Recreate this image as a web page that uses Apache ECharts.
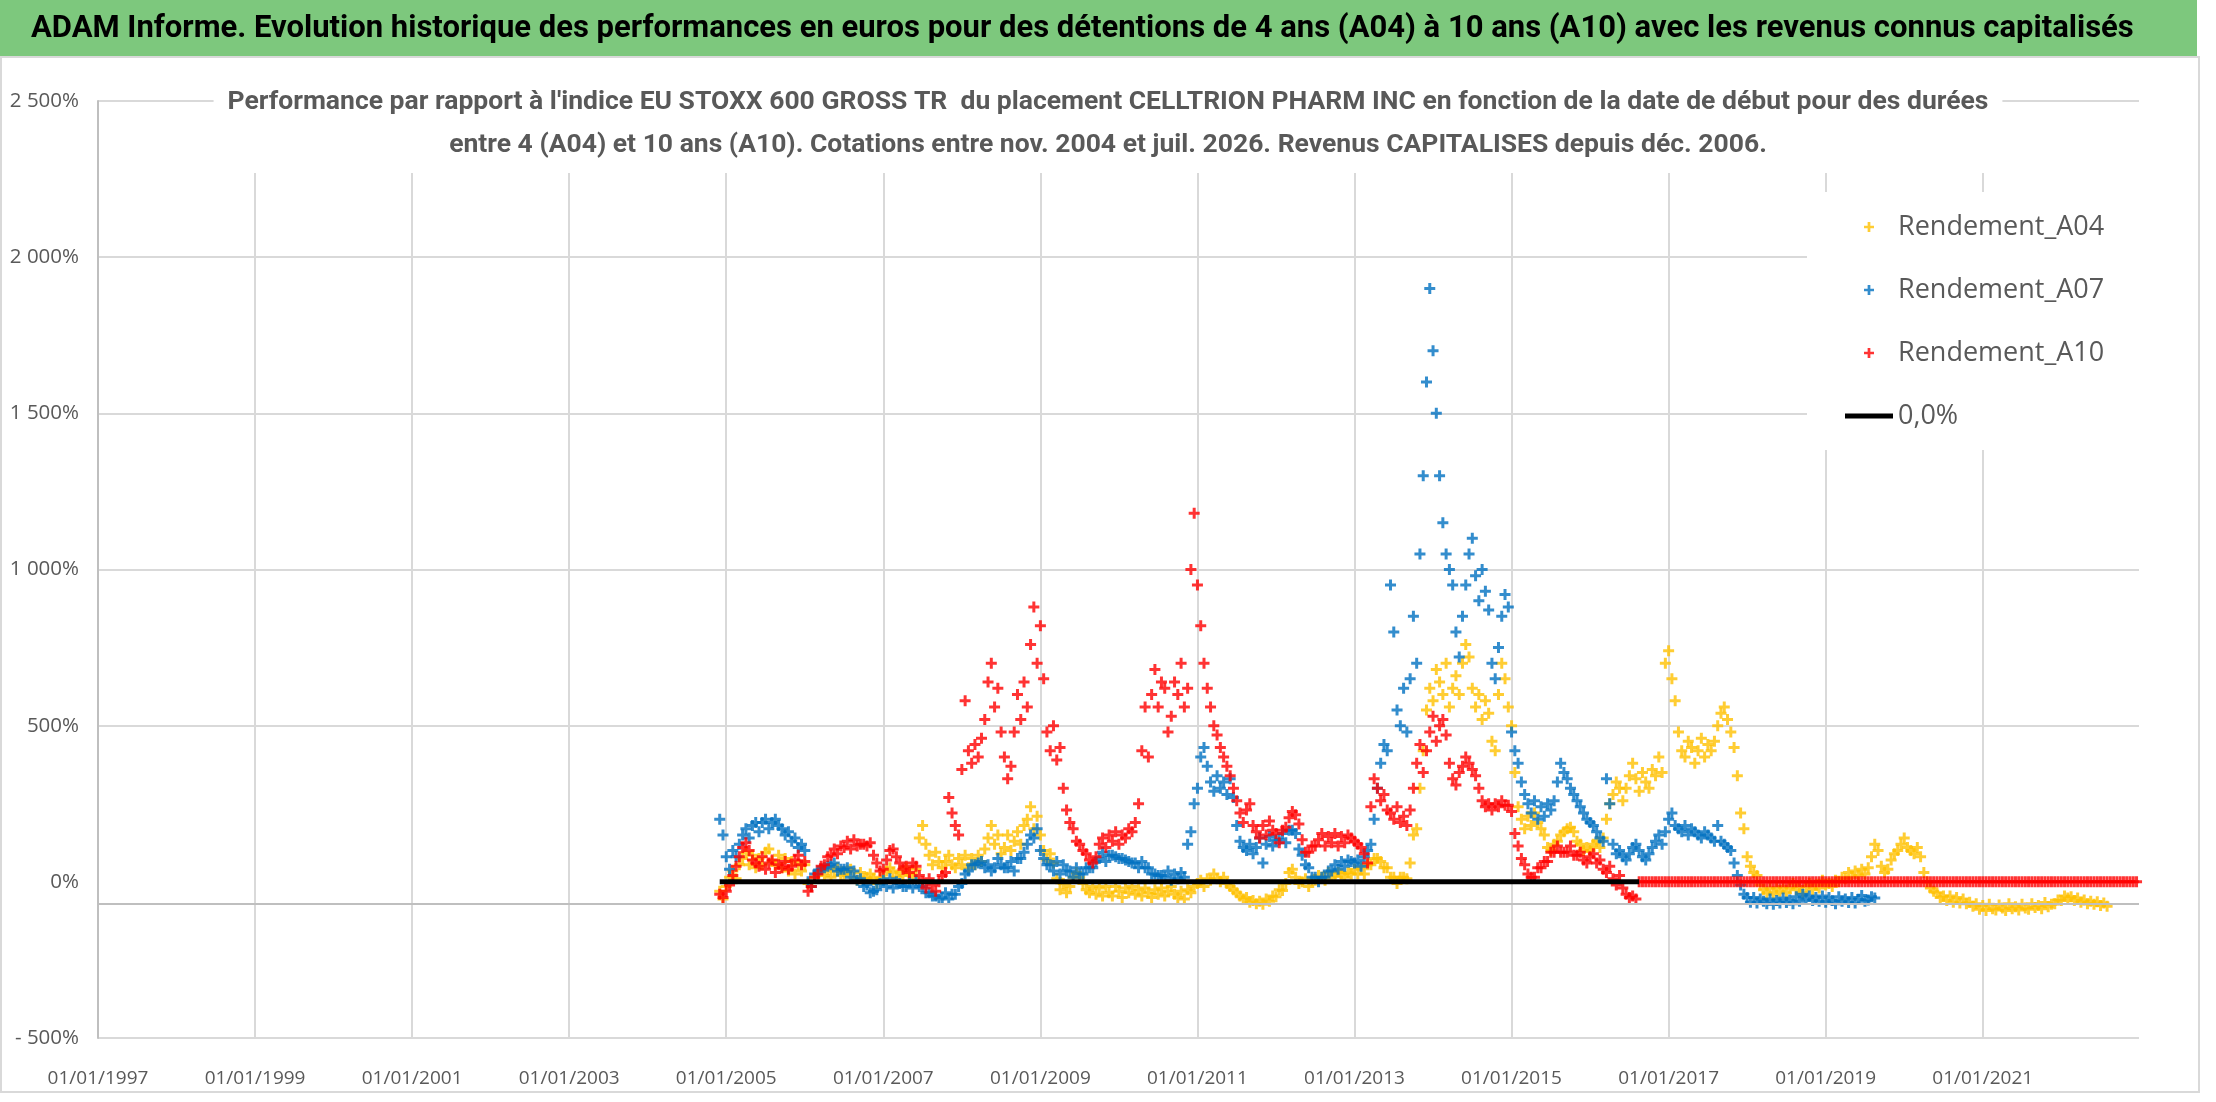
<!DOCTYPE html>
<html>
<head>
<meta charset="utf-8">
<script src="https://cdn.jsdelivr.net/npm/echarts@6/dist/echarts.min.js"></script>
<style>
  html, body { margin: 0; padding: 0; background: #fff; }
  #main { width: 2216px; height: 1102px; }
</style>
</head>
<body>
<div id="main"></div>
<script>
// points relevés tous les demi-mois à partir de déc. 2004
const startYear = 2004.917
const stepYear = 1 / 24
const firstTick = 1997
const axisCross = -70

const a04 = [
  -30, -55, -15, 15, 35, 10, 55, 75, 95, 55, 85, 45, 75, 55, 95, 105, 65, 55, 85, 45, 75, 35, 65, 25,
  55, 35, 55, -5, -15, 15, 25, 35, 20, 40, 15, 35, 45, 20, 25, 35, 40, 15, 5, 30, 10, 15, 25, 10,
  -5, 15, 10, 35, 45, 30, 15, 35, 20, 45, 25, 15, 40, 140, 180, 120, 85, 55, 95, 65, 45, 65, 85, 55,
  45, 75, 55, 85, 45, 75, 55, 85, 65, 105, 140, 180, 120, 150, 90, 110, 150, 100, 130, 160, 120, 180, 200, 240,
  170, 210, 150, 100, 70, 90, 60, 10, -25, -5, -35, -15, 15, 30, 15, -5, -25, -35, -15, -40, -20, -45, -15, -35,
  -45, -15, -30, -50, -20, -35, -15, -40, -25, -45, -20, -35, -50, -25, -40, -20, -45, -30, -15, -40, -50, -30, -55, -25,
  -35, -15, -5, 5, -15, 10, 5, 25, 10, 0, 15, -5, -15, -25, -35, -45, -55, -50, -65, -60, -70, -62, -72, -55,
  -62, -45, -48, -25, -28, -5, 30, 40, 15, -5, 0, 10, -15, 5, 5, 20, 15, 5, 30, 15, 20, 30, 25, 15,
  30, 25, 40, 25, 45, 25, 55, 55, 75, 75, 65, 45, 45, 15, 15, -5, 15, 15, 10, 60, 150, 170, 300, 420,
  550, 620, 580, 680, 640, 600, 700, 560, 620, 660, 600, 700, 760, 720, 620, 560, 600, 520, 580, 540, 450, 420, 600, 700,
  650, 560, 500, 350, 240, 200, 170, 210, 180, 220, 190, 170, 150, 110, 100, 120, 130, 150, 160, 170, 175, 160, 130, 120,
  100, 110, 100, 120, 130, 110, 140, 200, 250, 280, 320, 300, 260, 300, 340, 380, 330, 290, 350, 320, 300, 360, 340, 400,
  350, 700, 740, 650, 580, 480, 420, 400, 450, 430, 380, 420, 460, 400, 440, 420, 450, 500, 540, 560, 520, 480, 430, 340,
  220, 170, 80, 50, 30, 20, -10, -25, -35, -20, -40, -20, -30, -15, -35, -20, -5, -25, -15, -35, -15, -5, -25, -10,
  -20, 5, -10, -5, -15, 5, 0, 15, 10, 30, 15, 35, 20, 40, 25, 45, 80, 120, 100, 50, 30, 40, 70, 90,
  100, 120, 140, 110, 100, 90, 110, 80, 30, 0, -20, -30, -35, -50, -45, -60, -45, -65, -50, -68, -55, -70, -65, -78,
  -70, -88, -76, -92, -72, -86, -90, -74, -84, -92, -70, -86, -80, -90, -72, -84, -88, -70, -82, -76, -86, -66, -80, -72,
  -70, -58, -60, -45, -52, -48, -60, -52, -65, -58, -70, -62, -72, -64, -76, -68, -78
]

const a07 = [
  200, 150, 80, 40, 100, 80, 120, 150, 170, 140, 180, 190, 160, 190, 200, 170, 190, 200, 180, 170, 150, 160, 130, 140,
  110, 120, 100, 0, -15, 25, 35, 40, 45, 50, 55, 60, 35, 40, 40, 45, 15, 35, 5, 10, -15, -10, -35, -30,
  -25, -5, 5, -15, 10, -20, 0, -5, -15, -15, 0, -20, 5, -15, -15, -35, -35, -45, -45, -55, -50, -35, -55, -40,
  -40, -15, -5, 25, 35, 55, 55, 60, 65, 45, 55, 35, 45, 75, 55, 45, 45, 65, 35, 75, 75, 95, 120, 150,
  140, 170, 100, 75, 55, 55, 35, 65, 25, 55, 35, 35, 15, 45, 25, 25, 45, 45, 45, 65, 75, 95, 65, 85,
  85, 80, 75, 75, 70, 65, 60, 60, 45, 65, 45, 45, 25, 25, 20, 20, 15, 35, 5, 25, 10, 30, 15, 120,
  160, 250, 300, 400, 430, 370, 320, 290, 340, 300, 320, 280, 330, 270, 180, 130, 110, 100, 120, 90, 110, 140, 60, 120,
  145, 115, 135, 135, 155, 125, 165, 165, 155, 105, 85, 55, 45, 15, 15, 0, 15, 15, 35, 35, 55, 40, 65, 50,
  70, 65, 60, 70, 50, 80, 100, 120, 200, 300, 380, 440, 420, 950, 800, 550, 500, 620, 480, 650, 850, 700, 1050, 1300,
  1600, 1900, 1700, 1500, 1300, 1150, 1050, 1000, 950, 800, 720, 850, 950, 1050, 1100, 980, 900, 1000, 930, 870, 700, 650, 750, 850,
  920, 880, 480, 420, 380, 320, 280, 250, 220, 260, 200, 240, 210, 250, 230, 260, 320, 380, 350, 330, 300, 280, 260, 240,
  220, 200, 190, 180, 160, 140, 130, 330, 250, 120, 90, 100, 80, 70, 90, 110, 120, 100, 80, 70, 90, 110, 130, 150,
  120, 160, 200, 220, 180, 170, 160, 180, 150, 170, 160, 150, 140, 160, 150, 140, 130, 180, 130, 120, 110, 100, 60, 20,
  -10, -40, -50, -65, -50, -68, -55, -62, -70, -55, -72, -60, -68, -52, -66, -58, -70, -48, -62, -40, -55, -45, -60, -50,
  -62, -45, -65, -50, -60, -70, -48, -62, -55, -66, -50, -68, -56, -44, -62, -58, -48, -52
]

const a10 = [
  -40, -50, -30, -10, 20, 50, 80, 110, 125, 100, 70, 60, 50, 80, 40, 60, 70, 30, 55, 45, 65, 40, 50, 70,
  85, 55, 65, -30, -15, 15, 25, 50, 55, 80, 85, 105, 90, 115, 110, 130, 105, 135, 115, 120, 120, 115, 125, 85,
  60, 35, 40, 70, 100, 105, 80, 60, 40, 50, 30, 60, 50, 20, 0, -20, 10, -10, -30, 0, 20, 30, 270, 220,
  180, 150, 360, 580, 420, 380, 440, 400, 460, 520, 640, 700, 560, 620, 480, 400, 330, 370, 480, 600, 520, 640, 560, 760,
  880, 700, 820, 650, 480, 420, 500, 390, 430, 300, 230, 190, 170, 130, 120, 100, 90, 70, 60, 80, 120, 140, 110, 150,
  130, 160, 120, 150, 140, 170, 160, 190, 250, 420, 560, 400, 600, 680, 560, 640, 620, 480, 530, 640, 600, 700, 560, 620,
  1000, 1180, 950, 820, 700, 620, 560, 500, 470, 430, 400, 370, 340, 300, 260, 220, 190, 230, 250, 180, 160, 140, 180, 150,
  195, 165, 155, 125, 165, 175, 205, 225, 215, 185, 135, 95, 95, 115, 115, 135, 155, 115, 145, 125, 155, 115, 145, 125,
  150, 140, 130, 120, 110, 90, 60, 240, 330, 300, 260, 280, 230, 220, 200, 240, 190, 210, 180, 230, 300, 380, 440, 350,
  420, 480, 530, 450, 500, 520, 470, 380, 330, 310, 350, 370, 400, 380, 360, 340, 300, 260, 240, 250, 230, 250, 240, 260,
  245, 245, 225, 155, 115, 75, 55, 25, 15, 15, 45, 45, 65, 65, 95, 95, 115, 95, 95, 95, 115, 85, 85, 95,
  70, 60, 80, 90, 60, 70, 40, 30, 50, 10, -10, 20, -20, -40, -50, -45, -55, 0, 0, 0, 0, 0, 0, 0,
  0, 0, 0, 0, 0, 0, 0, 0, 0, 0, 0, 0, 0, 0, 0, 0, 0, 0, 0, 0, 0, 0, 0, 0,
  0, 0, 0, 0, 0, 0, 0, 0, 0, 0, 0, 0, 0, 0, 0, 0, 0, 0, 0, 0, 0, 0, 0, 0,
  0, 0, 0, 0, 0, 0, 0, 0, 0, 0, 0, 0, 0, 0, 0, 0, 0, 0, 0, 0, 0, 0, 0, 0,
  0, 0, 0, 0, 0, 0, 0, 0, 0, 0, 0, 0, 0, 0, 0, 0, 0, 0, 0, 0, 0, 0, 0, 0,
  0, 0, 0, 0, 0, 0, 0, 0, 0, 0, 0, 0, 0, 0, 0, 0, 0, 0, 0, 0, 0, 0, 0, 0,
  0, 0, 0, 0, 0, 0, 0, 0, 0, 0, 0, 0, 0, 0, 0, 0, 0, 0, 0, 0, 0, 0, 0, 0,
  0, 0
]

// la ligne noire 0,0% est masquée par la bande rouge après mi-2016
const zeroDates = [2004.917, 2016.625]
const zeroValues = [0, 0]

const titleText = 'ADAM Informe. Evolution historique des performances en euros pour des détentions de 4 ans (A04) à 10 ans (A10) avec les revenus connus capitalisés'
const subText = "Performance par rapport à l'indice EU STOXX 600 GROSS TR  du placement CELLTRION PHARM INC en fonction de la date de début pour des durées\n" +
  'entre 4 (A04) et 10 ans (A10). Cotations entre nov. 2004 et juil. 2026. Revenus CAPITALISES depuis déc. 2006.'

const plus = 'path://M4,0H7V4H11V7H7V11H4V7H0V4H4Z'
const bar = 'path://M0,0H48V5H0Z'
const narrow = "'Liberation Sans Narrow', 'Roboto', sans-serif"

function toPoints(values) {
  return values.map((v, i) => [startYear + i * stepYear - firstTick, v])
}

function pct(v) {
  const s = String(Math.abs(v)).replace(/\B(?=(\d{3})+(?!\d))/g, ' ')
  return (v < 0 ? '- ' : '') + s + '%'
}

const gridGray = '#d9d9d9'
const xLineColors = []
for (let k = 0; k < 13; k++) xLineColors.push(gridGray)
xLineColors.push('rgba(0,0,0,0)')

const myChart = echarts.init(document.getElementById('main'))

myChart.setOption({
  animation: false,
  textStyle: { fontFamily: 'Open Sans' },
  graphic: [
    { type: 'rect', shape: { x: 0, y: 0, width: 2197, height: 56 }, style: { fill: '#7dc87d' } },
    { type: 'rect', shape: { x: 1, y: 57, width: 2198, height: 1035 }, style: { fill: 'none', stroke: '#d9d9d9', lineWidth: 2 } }
  ],
  title: [
    {
      text: titleText,
      left: 31,
      top: 8,
      padding: 0,
      textStyle: { fontFamily: narrow, fontWeight: 'bold', fontSize: 31, lineHeight: 42, color: '#000' }
    },
    {
      text: subText,
      left: 'center',
      top: 76,
      padding: [5, 14, 6, 14],
      backgroundColor: '#fff',
      textStyle: { fontFamily: narrow, fontWeight: 'bold', fontSize: 26.5, lineHeight: 43, color: '#595959' }
    }
  ],
  legend: {
    orient: 'vertical',
    left: 1807,
    top: 192,
    padding: [20, 44, 19, 38],
    backgroundColor: '#fff',
    itemWidth: 48,
    itemHeight: 10,
    itemGap: 33,
    textStyle: { fontFamily: 'Open Sans', fontSize: 27, lineHeight: 30, color: '#595959' },
    data: [
      { name: 'Rendement_A04', icon: plus },
      { name: 'Rendement_A07', icon: plus },
      { name: 'Rendement_A10', icon: plus },
      { name: '0,0%', icon: bar }
    ]
  },
  grid: { left: 98, right: 77, top: 101, bottom: 64 },
  xAxis: {
    type: 'value',
    min: 0,
    max: 25.99,
    interval: 2,
    axisLine: { show: false, onZero: false },
    axisTick: { show: false },
    axisLabel: {
      fontSize: 19,
      color: '#595959',
      margin: 31,
      formatter: v => (v % 2 === 0 ? '01/01/' + (firstTick + v) : '')
    },
    splitLine: { show: true, lineStyle: { color: xLineColors, width: 2 } }
  },
  yAxis: {
    type: 'value',
    min: -500,
    max: 2500,
    interval: 500,
    axisLine: { show: true, lineStyle: { color: '#bfbfbf', width: 2 } },
    axisTick: { show: false },
    axisLabel: { fontSize: 20.5, color: '#595959', margin: 19, formatter: pct },
    splitLine: {
      lineStyle: { color: [gridGray, 'rgba(0,0,0,0)', gridGray, gridGray, gridGray, gridGray, gridGray], width: 2 }
    }
  },
  series: [
    {
      name: '0,0%',
      type: 'line',
      symbol: 'none',
      data: zeroDates.map((d, i) => [d - firstTick, zeroValues[i]]),
      lineStyle: { color: '#000', width: 5 },
      itemStyle: { color: '#000' },
      markLine: {
        silent: true,
        symbol: 'none',
        label: { show: false },
        lineStyle: { color: '#bfbfbf', width: 2, type: 'solid' },
        data: [{ yAxis: axisCross }]
      }
    },
    {
      name: 'Rendement_A04',
      type: 'scatter',
      symbol: plus,
      symbolSize: 11,
      itemStyle: { color: '#ffc000' },
      data: toPoints(a04)
    },
    {
      name: 'Rendement_A07',
      type: 'scatter',
      symbol: plus,
      symbolSize: 11,
      itemStyle: { color: '#0070c0' },
      data: toPoints(a07)
    },
    {
      name: 'Rendement_A10',
      type: 'scatter',
      symbol: plus,
      symbolSize: 11,
      itemStyle: { color: '#ff0000' },
      data: toPoints(a10)
    }
  ]
})
</script>
</body>
</html>
